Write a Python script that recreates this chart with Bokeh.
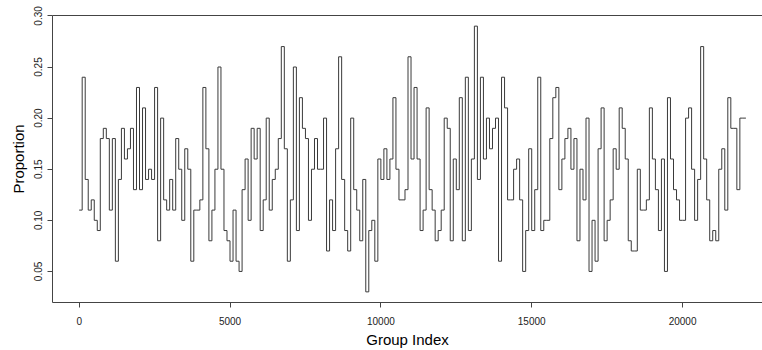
from bokeh.plotting import figure
from bokeh.models import Range1d, LinearAxis, FixedTicker, NumeralTickFormatter
from bokeh.embed import file_html
from bokeh.resources import INLINE

# Proportion per group (groups every 100 index units)
proportion = [
    0.11, 0.24, 0.14, 0.11, 0.12, 0.10, 0.09, 0.18, 0.19, 0.18,
    0.11, 0.18, 0.06, 0.14, 0.19, 0.16, 0.17, 0.19, 0.13, 0.23,
    0.13, 0.21, 0.14, 0.15, 0.14, 0.23, 0.08, 0.20, 0.12, 0.11,
    0.14, 0.11, 0.18, 0.15, 0.10, 0.17, 0.15, 0.06, 0.11, 0.11,
    0.12, 0.23, 0.17, 0.08, 0.11, 0.15, 0.25, 0.15, 0.09, 0.08,
    0.06, 0.11, 0.06, 0.05, 0.13, 0.16, 0.10, 0.19, 0.16, 0.19,
    0.09, 0.12, 0.20, 0.11, 0.14, 0.15, 0.18, 0.27, 0.17, 0.06,
    0.12, 0.25, 0.09, 0.22, 0.19, 0.18, 0.10, 0.15, 0.18, 0.15,
    0.15, 0.20, 0.07, 0.12, 0.09, 0.17, 0.26, 0.14, 0.09, 0.07,
    0.20, 0.13, 0.11, 0.08, 0.14, 0.03, 0.09, 0.10, 0.06, 0.16,
    0.14, 0.17, 0.14, 0.16, 0.22, 0.15, 0.12, 0.12, 0.13, 0.26,
    0.16, 0.23, 0.16, 0.09, 0.11, 0.21, 0.13, 0.11, 0.08, 0.09,
    0.11, 0.20, 0.19, 0.08, 0.16, 0.13, 0.22, 0.08, 0.24, 0.09,
    0.16, 0.29, 0.14, 0.24, 0.16, 0.20, 0.17, 0.19, 0.20, 0.06,
    0.24, 0.21, 0.12, 0.12, 0.15, 0.16, 0.12, 0.05, 0.09, 0.17,
    0.09, 0.13, 0.24, 0.09, 0.10, 0.10, 0.18, 0.22, 0.23, 0.13,
    0.16, 0.18, 0.19, 0.15, 0.18, 0.08, 0.15, 0.12, 0.20, 0.05,
    0.10, 0.06, 0.17, 0.21, 0.08, 0.10, 0.12, 0.17, 0.15, 0.21,
    0.19, 0.16, 0.08, 0.07, 0.07, 0.15, 0.11, 0.11, 0.12, 0.21,
    0.16, 0.13, 0.09, 0.16, 0.05, 0.22, 0.16, 0.13, 0.12, 0.10,
    0.10, 0.20, 0.21, 0.15, 0.10, 0.14, 0.27, 0.16, 0.12, 0.08,
    0.09, 0.08, 0.15, 0.17, 0.11, 0.22, 0.19, 0.19, 0.13, 0.20,
    0.20, 0.20,
]
group_index = list(range(0, 100 * len(proportion), 100))

x_ticks = [0, 5000, 10000, 15000, 20000]
y_ticks = [0.05, 0.10, 0.15, 0.20, 0.25, 0.30]

FONT = "Liberation Sans"

p = figure(
    width=762, height=350,
    x_range=Range1d(-884, 22650), y_range=Range1d(0.0196, 0.3004),
    min_border_left=52, min_border_right=0, min_border_top=15, min_border_bottom=47,
    output_backend="svg", toolbar_location=None,
)
p.outline_line_color = None
p.xgrid.visible = False
p.ygrid.visible = False
p.background_fill_color = "white"
p.border_fill_color = "white"

p.step(group_index, proportion, mode="after", line_color="#3a3a3a", line_width=1)

for ax in (p.xaxis[0], p.yaxis[0]):
    ax.axis_line_color = "#444444"
    ax.major_tick_line_color = "#444444"
    ax.major_tick_out = 5
    ax.major_tick_in = 0
    ax.minor_tick_out = 0
    ax.minor_tick_in = 0
    ax.major_label_text_font = FONT
    ax.major_label_text_font_size = "10px"
    ax.major_label_text_color = "#222222"
    ax.axis_label_text_font = FONT
    ax.axis_label_text_font_size = "15px"
    ax.axis_label_text_font_style = "normal"
    ax.axis_label_text_color = "black"

p.xaxis.ticker = FixedTicker(ticks=x_ticks)
p.xaxis.axis_label = "Group Index"
p.xaxis.major_label_standoff = 9
p.xaxis.axis_label_standoff = 3

p.yaxis.ticker = FixedTicker(ticks=y_ticks)
p.yaxis.formatter = NumeralTickFormatter(format="0.00")
p.yaxis.major_label_orientation = "vertical"
p.yaxis.axis_label = "Proportion"
p.yaxis.major_label_standoff = 5
p.yaxis.axis_label_standoff = 5

top = LinearAxis(ticker=FixedTicker(ticks=[]), axis_line_color="#444444",
                 major_tick_out=0, major_tick_in=0, minor_tick_out=0, minor_tick_in=0,
                 major_label_text_font_size="0px")
p.add_layout(top, "above")

open("out.html", "w").write(file_html(p, INLINE))
